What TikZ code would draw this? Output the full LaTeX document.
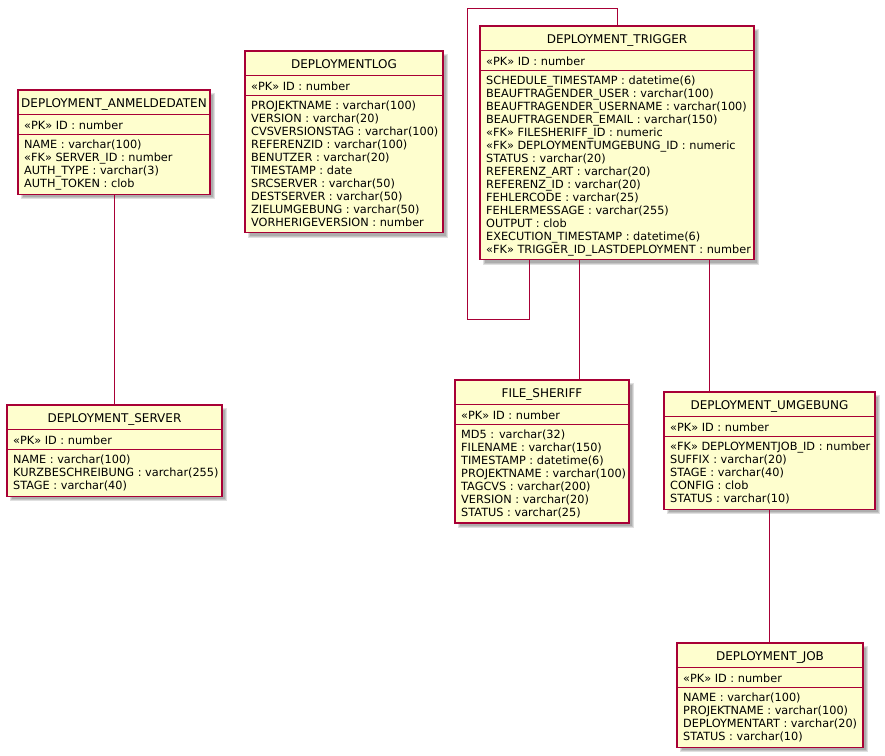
\documentclass[tikz,border=0pt]{standalone}
\usepackage{fontspec}
\setmainfont{DejaVu Sans}
\definecolor{entfill}{HTML}{FEFECE}
\definecolor{entline}{HTML}{A80036}
\tikzset{
  entbox/.style={draw=entline, fill=entfill, line width=1.2pt, inner sep=0pt, outer sep=0pt, rectangle},
  sepline/.style={draw=entline, line width=1pt},
  ttl/.style={font=\fontsize{12}{14}\selectfont, anchor=base, inner sep=0pt},
  attr/.style={font=\fontsize{11.3}{13}\selectfont, anchor=base west, inner sep=0pt},
  conn/.style={draw=entline, line width=0.9pt},
  shadowbox/.style={fill=black, opacity=0.12},
}
\newcommand\entity[8]{%
  \pgfmathsetmacro\entbot{#4+58.8+(#8-1)*12.95+6.5}%
  \pgfmathsetmacro\entcx{(#2+#3)/2}%
  \pgfmathsetmacro\entcy{(#4+\entbot)/2}%
  \pgfmathsetmacro\entw{#3-#2}%
  \pgfmathsetmacro\enth{\entbot-#4}%
  \fill[shadowbox] (#2+3,#4+3) rectangle (#3+5,\entbot+5);
  \fill[shadowbox] (#2+4,#4+4) rectangle (#3+4,\entbot+4);
  \fill[shadowbox] (#2+5,#4+5) rectangle (#3+3,\entbot+3);
  \node[entbox, minimum width=\entw pt, minimum height=\enth pt] (#1) at (\entcx,\entcy) {};
  \draw[sepline] (#2,#4+24) -- (#3,#4+24);
  \draw[sepline] (#2,#4+44.5) -- (#3,#4+44.5);
  \node[ttl] (#1-t) at (\entcx,#4+17.5) {#5};
  \node[attr] (#1-pk) at (#2+6,#4+39) {#6};
  \foreach \a [count=\i from 0] in {#7} {\node[attr] (#1-a\i) at (#2+6,#4+58.8+12.95*\i) {\a};}
}
\begin{document}
\begin{tikzpicture}[x=1pt,y=-1pt]
\useasboundingbox (0,0) rectangle (885,755);

\entity{anm}{18}{210}{90}{DEPLOYMENT\_ANMELDEDATEN}{«PK» ID : number}{NAME : varchar(100), «FK» SERVER\_ID : number, AUTH\_TYPE : varchar(3), AUTH\_TOKEN : clob}{4}

\entity{log}{245}{443}{51}{DEPLOYMENTLOG}{«PK» ID : number}{PROJEKTNAME : varchar(100), VERSION : varchar(20), CVSVERSIONSTAG : varchar(100), REFERENZID : varchar(100), BENUTZER : varchar(20), TIMESTAMP : date, SRCSERVER : varchar(50), DESTSERVER : varchar(50), ZIELUMGEBUNG : varchar(50), VORHERIGEVERSION : number}{10}

\entity{trig}{480}{754}{26}{DEPLOYMENT\_TRIGGER}{«PK» ID : number}{SCHEDULE\_TIMESTAMP : datetime(6), BEAUFTRAGENDER\_USER : varchar(100), BEAUFTRAGENDER\_USERNAME : varchar(100), BEAUFTRAGENDER\_EMAIL : varchar(150), «FK» FILESHERIFF\_ID : numeric, «FK» DEPLOYMENTUMGEBUNG\_ID : numeric, STATUS : varchar(20), REFERENZ\_ART : varchar(20), REFERENZ\_ID : varchar(20), FEHLERCODE : varchar(25), FEHLERMESSAGE : varchar(255), OUTPUT : clob, EXECUTION\_TIMESTAMP : datetime(6), «FK» TRIGGER\_ID\_LASTDEPLOYMENT : number}{14}

\entity{fs}{455}{629}{380}{FILE\_SHERIFF}{«PK» ID : number}{MD5 : varchar(32), FILENAME : varchar(150), TIMESTAMP : datetime(6), PROJEKTNAME : varchar(100), TAGCVS : varchar(200), VERSION : varchar(20), STATUS : varchar(25)}{7}

\entity{umg}{664}{875}{392}{DEPLOYMENT\_UMGEBUNG}{«PK» ID : number}{«FK» DEPLOYMENTJOB\_ID : number, SUFFIX : varchar(20), STAGE : varchar(40), CONFIG : clob, STATUS : varchar(10)}{5}

\entity{job}{677}{863}{643}{DEPLOYMENT\_JOB}{«PK» ID : number}{NAME : varchar(100), PROJEKTNAME : varchar(100), DEPLOYMENTART : varchar(20), STATUS : varchar(10)}{4}

\entity{srv}{7}{222}{405}{DEPLOYMENT\_SERVER}{«PK» ID : number}{NAME : varchar(100), KURZBESCHREIBUNG : varchar(255), STAGE : varchar(40)}{3}

% connectors
\draw[conn] (srv.north |- anm.south) -- (srv.north);

\coordinate (loopA) at (467,8);
\coordinate (loopB) at (467,319);
\coordinate (tTop) at ([xshift=137pt]trig.north west);
\coordinate (tLoop) at ([xshift=49pt]trig.south west);
\draw[conn] (tTop) |- (loopA) -- (loopB) -| (tLoop);

\coordinate (tFs) at ([xshift=99pt]trig.south west);
\draw[conn] (tFs) -- (tFs |- fs.north);
\coordinate (tUmg) at ([xshift=229pt]trig.south west);
\draw[conn] (tUmg) -- (tUmg |- umg.north);

\draw[conn] (umg.south) -- (umg.south |- job.north);
\end{tikzpicture}
\end{document}
